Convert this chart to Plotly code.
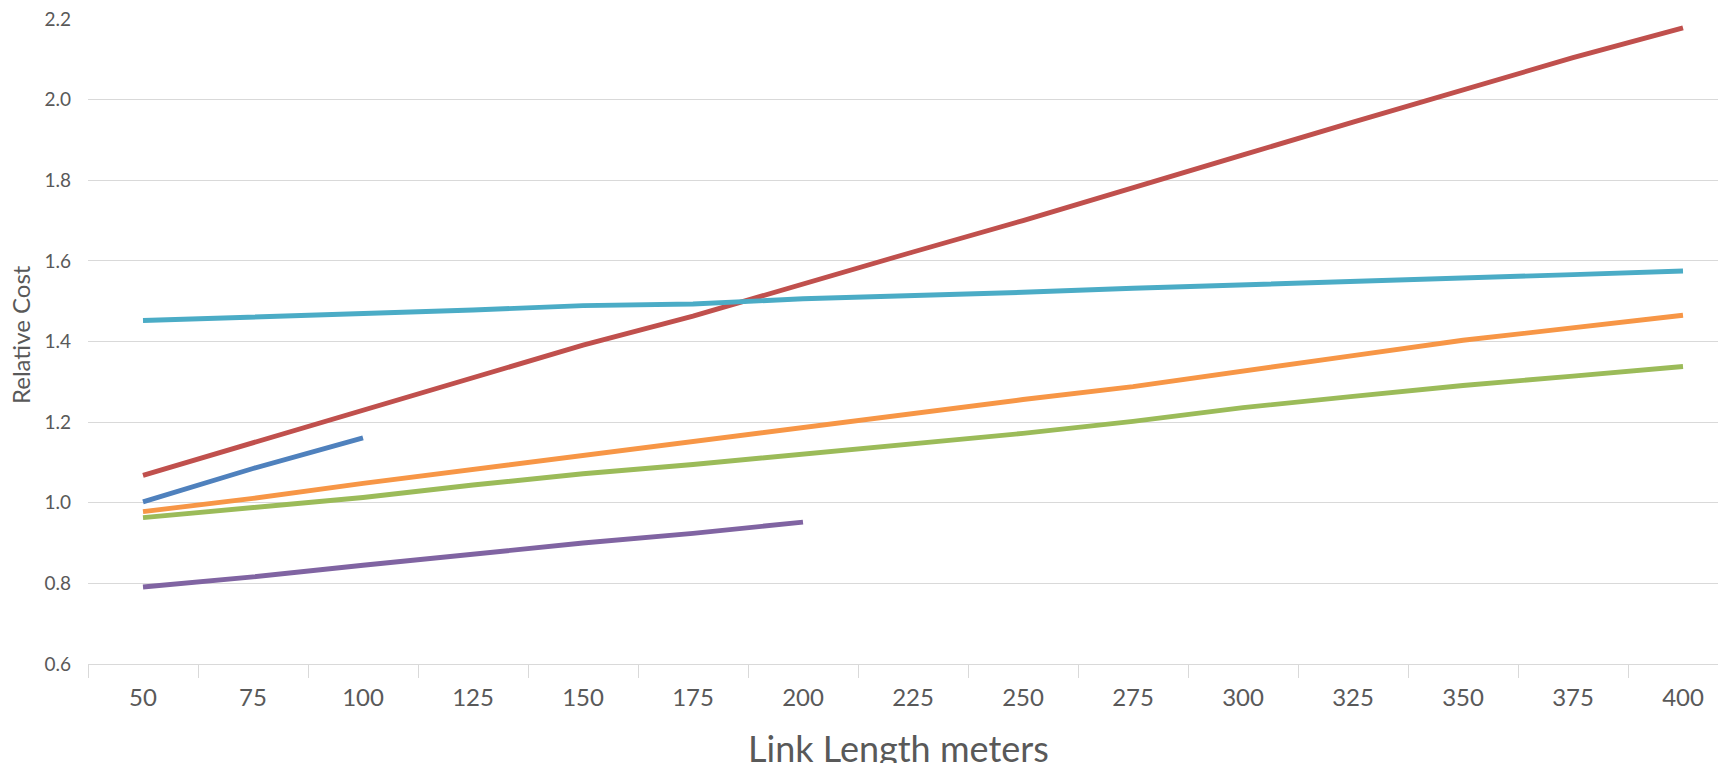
import plotly.graph_objects as go

link_length = ["50", "75", "100", "125", "150", "175", "200", "225", "250",
               "275", "300", "325", "350", "375", "400"]

series_blue = [1.002, 1.085, 1.161]
series_red = [1.068, 1.149, 1.230, 1.310, 1.391, 1.463, 1.544, 1.622, 1.700,
              1.783, 1.863, 1.944, 2.024, 2.104, 2.178]
series_green = [0.963, 0.987, 1.013, 1.044, 1.072, 1.095, 1.121, 1.145, 1.172,
                1.202, 1.236, 1.264, 1.291, 1.314, 1.338]
series_purple = [0.791, 0.816, 0.845, 0.874, 0.900, 0.924, 0.952]
series_cyan = [1.452, 1.460, 1.471, 1.478, 1.489, 1.493, 1.506, 1.513, 1.522,
               1.532, 1.540, 1.547, 1.558, 1.566, 1.575]
series_orange = [0.978, 1.011, 1.048, 1.083, 1.118, 1.152, 1.188, 1.224, 1.256,
                 1.288, 1.325, 1.365, 1.403, 1.435, 1.465]

y_ticks = [0.6, 0.8, 1.0, 1.2, 1.4, 1.6, 1.8, 2.0, 2.2]
y_ticktext = ["0.6", "0.8", "1.0", "1.2", "1.4", "1.6", "1.8", "2.0", "2.2"]

series = [
    (series_blue, "#4F81BD"),
    (series_red, "#C0504D"),
    (series_green, "#9BBB59"),
    (series_purple, "#8064A2"),
    (series_cyan, "#4BACC6"),
    (series_orange, "#F79646"),
]

FONT = "Lato, Noto Sans, sans-serif"

fig = go.Figure()
for vals, color in series:
    fig.add_trace(go.Scatter(
        x=link_length[:len(vals)], y=vals, mode="lines",
        line=dict(color=color, width=4.9), showlegend=False, hoverinfo="skip"))

W, H = 1718, 763
L, T, B = 88, 19, 99
plot_w = W - L
plot_h = H - T - B
cat_px = 110.0
x_right = -0.5 + plot_w / cat_px

fig.update_layout(
    width=W, height=H,
    margin=dict(l=L, r=0, t=T, b=B),
    paper_bgcolor="white", plot_bgcolor="white",
    font=dict(family=FONT, color="#595959"),
    xaxis=dict(
        type="category", categoryorder="array", categoryarray=link_length,
        range=[-0.5, x_right], tickson="boundaries",
        ticks="outside", ticklen=13, tickcolor="#d9d9d9", tickwidth=1.3,
        showline=True, linecolor="#d9d9d9", linewidth=1.3,
        showgrid=False, zeroline=False,
        tickfont=dict(size=24, color="#595959"),
        ticklabelstandoff=12,
    ),
    yaxis=dict(
        range=[0.6, 2.2], tickvals=y_ticks, ticktext=y_ticktext,
        showgrid=True, gridcolor="#d9d9d9", gridwidth=1.3,
        showline=False, zeroline=False, ticks="",
        tickfont=dict(size=19, color="#595959"), ticklabelstandoff=16,
    ),
    annotations=[
        dict(text="Link Length meters", xref="paper", yref="paper",
             x=(898 - L) / plot_w, y=(H - B - 748) / plot_h,
             xanchor="center", yanchor="middle", showarrow=False,
             font=dict(size=36, color="#595959")),
        dict(text="Relative Cost", xref="paper", yref="paper",
             x=(20 - L) / plot_w, y=(H - B - 335) / plot_h,
             xanchor="center", yanchor="middle", textangle=-90, showarrow=False,
             font=dict(size=24, color="#595959")),
    ],
)

fig.write_html("out.html", config={"displayModeBar": False},
               post_script="document.body.style.margin='0';")
